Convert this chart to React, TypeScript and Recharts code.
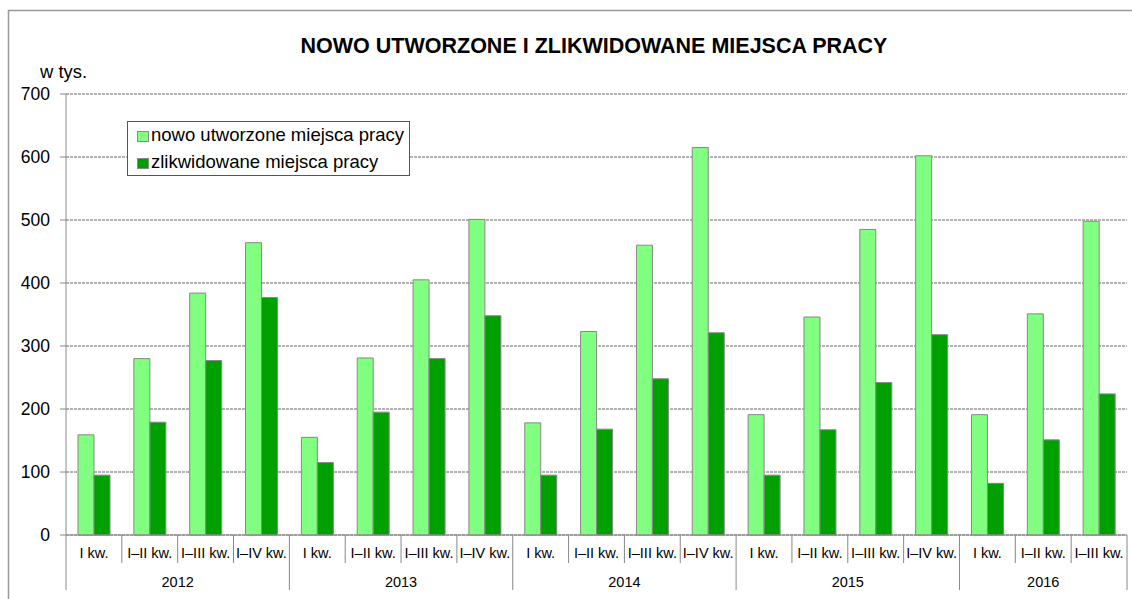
import { BarChart, Bar, XAxis, YAxis, CartesianGrid } from 'recharts';

const quarters = [
  'I kw.', 'I–II kw.', 'I–III kw.', 'I–IV kw.',
  'I kw.', 'I–II kw.', 'I–III kw.', 'I–IV kw.',
  'I kw.', 'I–II kw.', 'I–III kw.', 'I–IV kw.',
  'I kw.', 'I–II kw.', 'I–III kw.', 'I–IV kw.',
  'I kw.', 'I–II kw.', 'I–III kw.',
];
const years = [
  '2012', '2012', '2012', '2012',
  '2013', '2013', '2013', '2013',
  '2014', '2014', '2014', '2014',
  '2015', '2015', '2015', '2015',
  '2016', '2016', '2016',
];
const created = [159, 280, 384, 464, 155, 281, 405, 501, 178, 323, 460, 615, 191, 346, 485, 602, 191, 351, 498];
const liquidated = [95, 179, 277, 377, 115, 195, 280, 348, 95, 168, 248, 321, 95, 167, 242, 318, 82, 151, 224];
const yTicks = [0, 100, 200, 300, 400, 500, 600, 700];

const series = [
  { key: 'created', name: 'nowo utworzone miejsca pracy', color: '#80FF80' },
  { key: 'liquidated', name: 'zlikwidowane miejsca pracy', color: '#00A000' },
];

const data = quarters.map((q, i) => ({
  quarter: q,
  year: years[i],
  created: created[i],
  liquidated: liquidated[i],
}));

const W = 1132;
const H = 599;
const PLOT_LEFT = 66;
const PLOT_RIGHT = 1127;
const AXIS_Y = 535;
const FONT = '"Liberation Sans", Arial, sans-serif';

function QuarterTick(props: any) {
  const { x, index, payload } = props;
  const band = (PLOT_RIGHT - PLOT_LEFT) / quarters.length;
  const left = x - band / 2;
  const firstOfYear = index === 0 || years[index] !== years[index - 1];
  const last = index === quarters.length - 1;
  const n = years.filter((y) => y === years[index]).length;
  return (
    <g>
      <line x1={left} x2={left} y1={AXIS_Y} y2={firstOfYear ? 590 : 563} stroke="#888" />
      {last && <line x1={left + band} x2={left + band} y1={AXIS_Y} y2={590} stroke="#888" />}
      <text x={x} y={558} textAnchor="middle" fontSize={14.5} fill="#000">
        {payload.value}
      </text>
      {firstOfYear && (
        <text x={left + (n * band) / 2} y={587} textAnchor="middle" fontSize={14.5} fill="#000">
          {years[index]}
        </text>
      )}
    </g>
  );
}

export default function App() {
  return (
    <div style={{ position: 'absolute', left: 0, top: 0, width: W, height: H, fontFamily: FONT, background: '#fff' }}>
      <BarChart
        width={W}
        height={H}
        data={data}
        margin={{ top: 94, right: W - PLOT_RIGHT, left: 6, bottom: 4 }}
        barCategoryGap="21.5%"
        barGap={0}
      >
        <CartesianGrid vertical={false} stroke="#666" strokeDasharray="3 1" />
        <XAxis
          dataKey="quarter"
          height={60}
          interval={0}
          tickLine={false}
          axisLine={{ stroke: '#888' }}
          tick={<QuarterTick />}
        />
        <YAxis
          width={60}
          domain={[0, 700]}
          ticks={yTicks}
          tickSize={6}
          tickMargin={10}
          axisLine={{ stroke: '#888' }}
          tickLine={{ stroke: '#888' }}
          tick={{ fontSize: 17.5, fill: '#000' }}
        />
        {series.map((s) => (
          <Bar key={s.key} dataKey={s.key} name={s.name} fill={s.color} stroke="#888" strokeWidth={1} isAnimationActive={false} />
        ))}
      </BarChart>
      <svg width={W} height={H} style={{ position: 'absolute', left: 0, top: 0, pointerEvents: 'none' }}>
        <path d={`M8.5 ${H} V10.5 H${W}`} fill="none" stroke="#999" strokeWidth={1.5} />
        <text x={594} y={53} textAnchor="middle" fontSize={21.5} fontWeight="bold" fill="#000">
          NOWO UTWORZONE I ZLIKWIDOWANE MIEJSCA PRACY
        </text>
        <text x={40} y={78} fontSize={18.4} fill="#000">w tys.</text>
        <rect x={127.5} y={121.5} width={282} height={54} fill="#fff" stroke="#555" />
        {series.map((s, i) => (
          <g key={s.key}>
            <rect x={137.5} y={131.5 + i * 27} width={11} height={10} fill={s.color} stroke="#888" />
            <text x={151} y={141 + i * 27} fontSize={18.5} fill="#000">{s.name}</text>
          </g>
        ))}
      </svg>
    </div>
  );
}
